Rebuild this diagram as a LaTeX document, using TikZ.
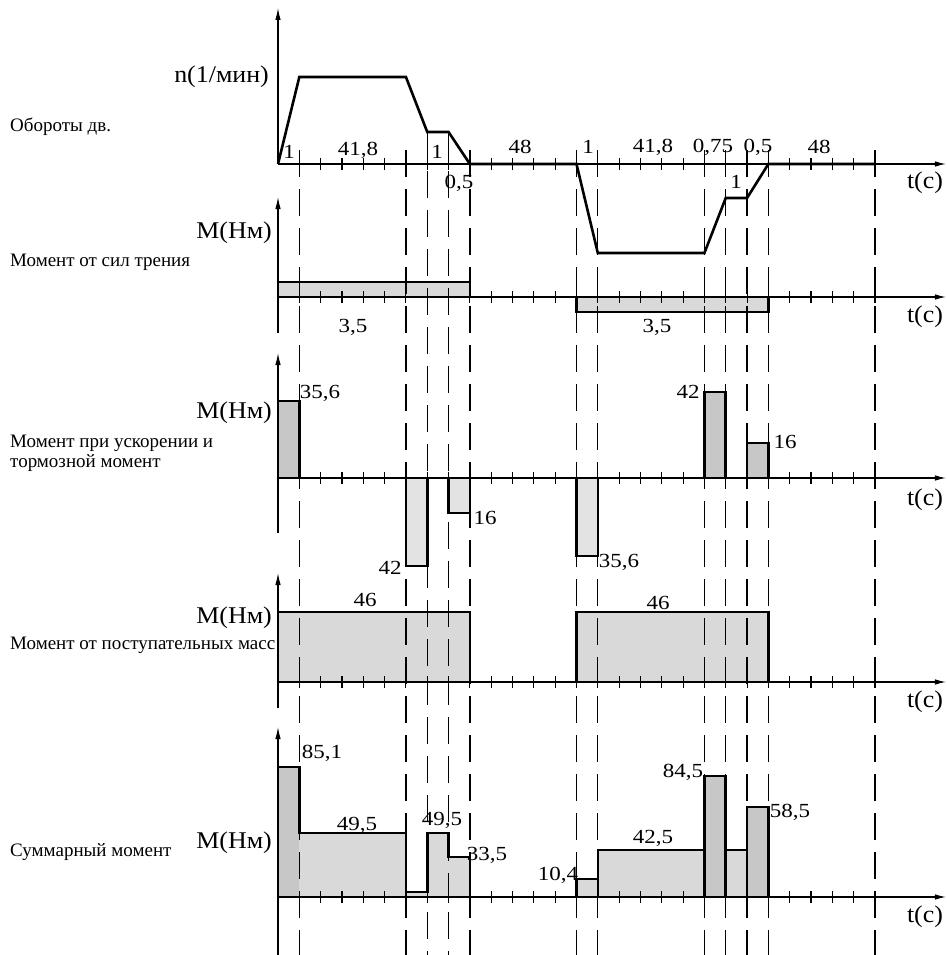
\documentclass[tikz,border=0pt]{standalone}
\usepackage{fontspec}
\setmainfont{Liberation Serif}
\newfontfamily\numfont[FakeStretch=1.15]{Liberation Serif}
\newfontfamily\axfont[FakeStretch=1.08]{Liberation Serif}
\usetikzlibrary{arrows.meta}
\begin{document}
\begin{tikzpicture}[x=1pt,y=-1pt,
  vaxis/.style={line width=1.1pt,-{Latex[length=12pt,width=5.5pt]}},
  haxis/.style={line width=1.1pt,-{Latex[length=11pt,width=5.5pt]}},
  prof/.style={line width=2.6pt,line join=miter},
  guide/.style={line width=1.3pt,dash pattern=on 27pt off 12pt},
  tickmark/.style={line width=1.1pt},
  num/.style={font=\numfont\fontsize{20}{22}\selectfont,inner sep=0pt},
  lab/.style={font=\fontsize{19}{20}\selectfont,inner sep=0pt,anchor=west,align=left},
  axl/.style={font=\axfont\fontsize{24}{26}\selectfont,inner sep=0pt},
  fillpos/.style={fill=black!22},
  fillneg/.style={fill=black!11},
  fillmid/.style={fill=black!15}
]
\useasboundingbox (0,0) rectangle (946,955);

% left labels
\node[lab] (l1) at (10,127) {Обороты дв.};
\node[lab] (l2) at (10,262) {Момент от сил трения};
\node[lab] (l3) at (10,453) {Момент при ускорении и\\тормозной момент};
\node[lab] (l4) at (10,645) {Момент от поступательных масс};
\node[lab] (l5) at (10,852) {Суммарный момент};

% axis labels
\node[axl,anchor=east] (a1) at (269,77) {n(1/мин)};
\node[axl,anchor=east] (a2) at (272,233) {М(Нм)};
\node[axl,anchor=east] (a3) at (272,413) {М(Нм)};
\node[axl,anchor=east] (a4) at (272,618) {М(Нм)};
\node[axl,anchor=east] (a5) at (272,843) {М(Нм)};
\node[axl] (t1) at (925,183) {t(с)};
\node[axl] (t2) at (925,317) {t(с)};
\node[axl] (t3) at (925,500) {t(с)};
\node[axl] (t4) at (925,702) {t(с)};
\node[axl] (t5) at (925,917) {t(с)};

\begin{scope}[xshift=278pt,x=21.32pt]
  % fills
  \fill[fillmid] (0,282) rectangle (9,297);
  \fill[fillmid] (14,297) rectangle (23,312);
  \fill[fillpos] (0,478) rectangle (1,401);
  \fill[fillneg] (6,478) rectangle (7,566);
  \fill[fillneg] (8,478) rectangle (9,513);
  \fill[fillneg] (14,478) rectangle (15,556);
  \fill[fillpos] (20,478) rectangle (21,392);
  \fill[fillpos] (22,478) rectangle (23,443);
  \fill[fillmid] (0,612) rectangle (9,682);
  \fill[fillmid] (14,612) rectangle (23,682);
  \fill[fillmid] (0,897)--(0,767)--(1,767)--(1,833)--(6,833)--(6,892)--(7,892)--(7,833)--(8,833)--(8,857)--(9,857)--(9,897)--cycle;
  \fill[fillpos] (0,897) rectangle (1,767);
  \fill[fillmid] (14,897)--(14,879)--(15,879)--(15,850)--(20,850)--(20,776)--(21,776)--(21,850)--(22,850)--(22,807)--(23,807)--(23,897)--cycle;
  \fill[fillpos] (20,897) rectangle (21,776);
  \fill[fillpos] (22,897) rectangle (23,807);

  % dashed guides
  \foreach \u in {1,6,9,14,15,20,21,22,23,28} \draw[guide] (\u,150) -- (\u,955);
  \foreach \u in {7,8} \draw[guide] (\u,132) -- (\u,955);

  % axes
  \draw[vaxis] (0,164) -- (0,8);
  \draw[vaxis] (0,333) -- (0,197);
  \draw[vaxis] (0,533) -- (0,353);
  \draw[vaxis] (0,708) -- (0,573);
  \draw[vaxis] (0,955) -- (0,727);
  \foreach \yy in {164,297,478,682,897} {
    \draw[haxis] (0,\yy) -- (31.33,\yy);
    \foreach \u in {1,...,28} \draw[tickmark] (\u,\yy-6) -- (\u,\yy+6);
  }

  % chart 1: speed
  \draw[prof] (0,164)--(1,77)--(6,77)--(7,132)--(8,132)--(9,164)--(14,164)--(15,253)--(20,253)--(21,198)--(22,198)--(23,164)--(28,164);

  % chart 2: friction
  \draw[prof] (0,282) rectangle (9,297);
  \draw[prof] (14,297) rectangle (23,312);

  % chart 3
  \draw[prof] (0,478) rectangle (1,401);
  \draw[prof] (6,478) rectangle (7,566);
  \draw[prof] (8,478) rectangle (9,513);
  \draw[prof] (14,478) rectangle (15,556);
  \draw[prof] (20,478) rectangle (21,392);
  \draw[prof] (22,478) rectangle (23,443);

  % chart 4
  \draw[prof] (0,612) rectangle (9,682);
  \draw[prof] (14,612) rectangle (23,682);

  % chart 5
  \draw[prof] (0,897)--(0,767)--(1,767)--(1,833)--(6,833)--(6,892)--(7,892)--(7,833)--(8,833)--(8,857)--(9,857)--(9,897)--cycle;
  \draw[prof] (14,897)--(14,879)--(15,879)--(15,850)--(20,850)--(20,776)--(21,776)--(21,850)--(22,850)--(22,807)--(23,807)--(23,897)--cycle;
  \draw[prof] (15,850)--(15,897);
  \draw[prof] (20,850)--(20,897);
  \draw[prof] (21,850)--(21,897);
  \draw[prof] (22,850)--(22,897);
\end{scope}

% value labels
\node[num] (v1) at (289,152) {1};
\node[num] (v2) at (358,150) {41,8};
\node[num] (v3) at (437,152) {1};
\node[num] (v4) at (459,183) {0,5};
\node[num] (v5) at (520,147) {48};
\node[num] (v6) at (588,147) {1};
\node[num] (v7) at (653,147) {41,8};
\node[num] (v8) at (713,147) {0,75};
\node[num] (v9) at (758,147) {0,5};
\node[num] (v10) at (819,147) {48};
\node[num] (v11) at (736,182) {1};
\node[num] (v12) at (353,327) {3,5};
\node[num] (v13) at (657,327) {3,5};
\node[num] (v14) at (320,393) {35,6};
\node[num] (v15) at (390,568) {42};
\node[num] (v16) at (485,518) {16};
\node[num] (v17) at (619,562) {35,6};
\node[num] (v18) at (688,392) {42};
\node[num] (v19) at (785,442) {16};
\node[num] (v20) at (365,600) {46};
\node[num] (v21) at (658,603) {46};
\node[num] (v22) at (322,753) {85,1};
\node[num] (v23) at (357,825) {49,5};
\node[num] (v24) at (442,820) {49,5};
\node[num] (v25) at (487,855) {33,5};
\node[num] (v26) at (558,875) {10,4};
\node[num] (v27) at (653,838) {42,5};
\node[num] (v28) at (683,772) {84,5};
\node[num] (v29) at (790,812) {58,5};
\end{tikzpicture}
\end{document}
